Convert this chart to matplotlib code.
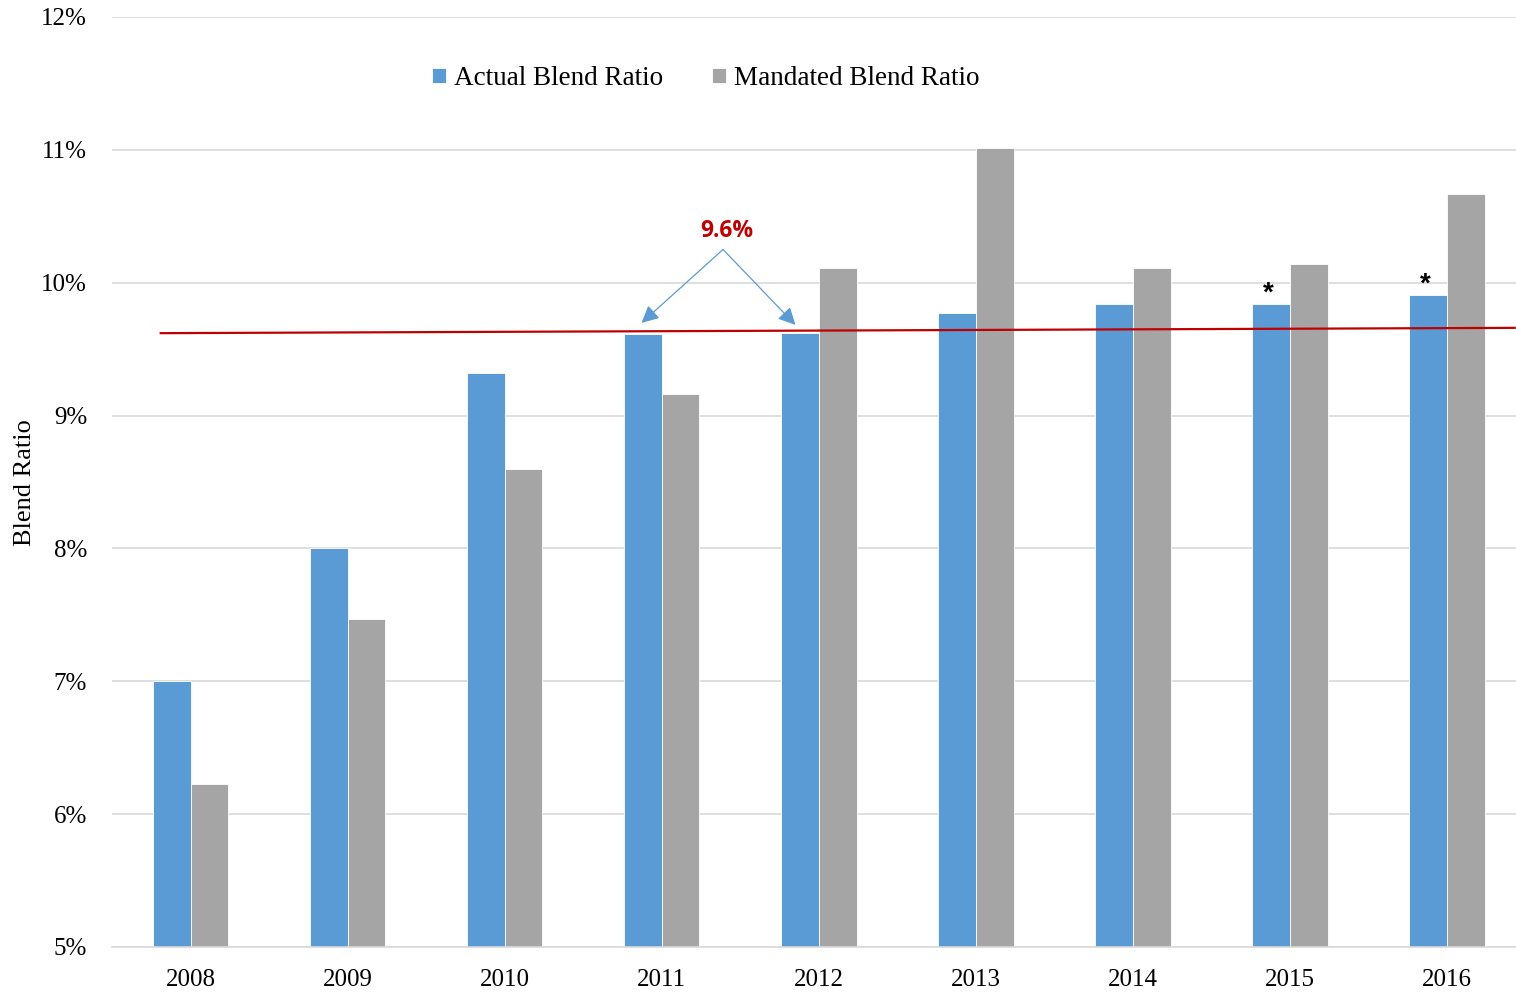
import numpy as np
import matplotlib.pyplot as plt

years = ['2008', '2009', '2010', '2011', '2012', '2013', '2014', '2015', '2016']
actual = [7.00, 8.00, 9.32, 9.61, 9.62, 9.77, 9.84, 9.84, 9.91]
mandated = [6.23, 7.47, 8.60, 9.16, 10.11, 11.01, 10.11, 10.14, 10.67]
starred = ['2015', '2016']
trend_x = [-0.19, 8.43]
trend_y = [9.62, 9.66]
avg_label = '9.6%'

plt.rcParams['font.family'] = ['Liberation Serif', 'DejaVu Serif']

fig = plt.figure(figsize=(15.16, 9.92), dpi=100)
ax = fig.add_axes([0.0739, 0.0454, 0.9325, 0.9375])

x = np.arange(len(years))
w = 0.24
ax.bar(x - w/2, actual, w, color='#5B9BD5', edgecolor='white', linewidth=0.6,
       label='Actual Blend Ratio', zorder=2)
ax.bar(x + w/2, mandated, w, color='#A5A5A5', edgecolor='white', linewidth=0.6,
       label='Mandated Blend Ratio', zorder=2)

ax.plot(trend_x, trend_y, color='#C00000', linewidth=1.6, zorder=3)

for i, yr in enumerate(years):
    if yr in starred:
        ax.text(i - w/2 - 0.02, actual[i] - 0.02, '*', ha='center', va='bottom',
                fontsize=20, fontweight='bold', family='Liberation Sans')

ax.text(3.412, 10.39, avg_label, color='#C00000', fontsize=16.5, fontweight='bold',
        family='Open Sans', ha='center', va='center')
for tx, ty in [(2.871, 9.697), (3.851, 9.682)]:
    ax.annotate('', xy=(tx, ty), xytext=(3.39, 10.25),
                arrowprops=dict(arrowstyle='-|>', color='#5B9BD5', lw=0.9,
                                mutation_scale=26, shrinkA=0, shrinkB=0))

ax.set_xlim(-0.5, 8.5)
ax.set_ylim(5, 12)
ax.set_xticks(x)
ax.set_xticklabels(years, fontsize=18)
ax.set_yticks(np.arange(5, 13, 1))
ax.set_yticklabels([f'{v}%' for v in range(5, 13)], fontsize=18)
ax.tick_params(length=0, pad=16)
ax.tick_params(axis='y', pad=18)
ax.grid(axis='y', color='#D9D9D9', linewidth=1.2, zorder=0)
ax.set_axisbelow(True)
for s in ['top', 'right', 'left']:
    ax.spines[s].set_visible(False)
ax.spines['bottom'].set_color('#D9D9D9')
ax.spines['bottom'].set_linewidth(1.2)

fig.text(0.009, 0.514, 'Blend Ratio', rotation=90, fontsize=19, ha='left', va='center')

ax.legend(loc='center', bbox_to_anchor=(0.42, 0.934), ncol=2, frameon=False,
          fontsize=19.5, handlelength=0.5, handleheight=0.5, handletextpad=0.3,
          columnspacing=1.8)

fig.savefig('out.png', dpi=100)
